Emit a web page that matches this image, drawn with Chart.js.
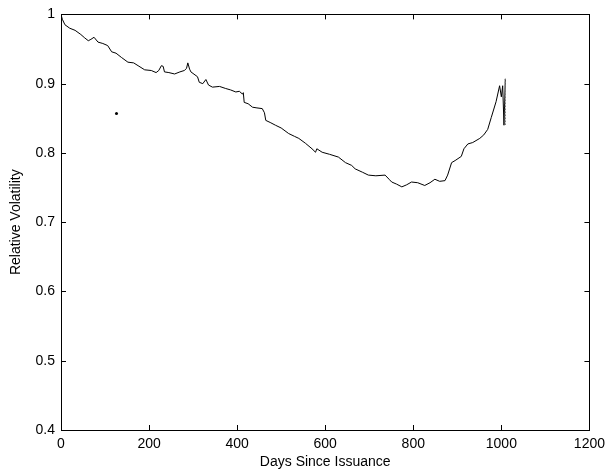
<!DOCTYPE html>
<html>
<head>
<meta charset="utf-8">
<script src="https://cdn.jsdelivr.net/npm/chart.js@4.4.1/dist/chart.umd.min.js"></script>
<style>
  html, body { margin: 0; padding: 0; background: #fff; }
  #wrap { width: 611px; height: 475px; position: relative; }
</style>
</head>
<body>
<div id="wrap"><canvas id="volChart"></canvas></div>
<script>
// days since issuance and relative volatility
const days = [0, 3, 9, 20, 32, 45, 54, 62, 68, 75, 84, 95, 106, 115, 125, 137, 152, 165, 175, 190,
  205, 216, 222, 228, 232, 235, 245, 258, 270, 280, 285, 288, 292, 295, 310, 314, 322, 329, 335, 344,
  360, 374, 385, 397, 405, 412, 414, 416, 425, 435, 445, 457, 462, 465, 475, 487, 500, 517, 530, 540,
  555, 570, 578, 581, 593, 610, 630, 646, 660, 668, 685, 698, 715, 736, 745, 751, 762, 774, 785, 796,
  810, 826, 838, 849, 860, 872, 878, 887, 895, 909, 915, 924, 935, 951, 960, 969, 977, 988, 996, 1000,
  1003, 1006, 1009, 1009];
const volatility = [1.0, 0.993, 0.985, 0.98, 0.977, 0.971, 0.966, 0.962, 0.964, 0.967, 0.96, 0.958, 0.955, 0.946, 0.944, 0.938, 0.931, 0.93, 0.926, 0.92,
  0.919, 0.916, 0.919, 0.926, 0.925, 0.917, 0.916, 0.914, 0.917, 0.919, 0.922, 0.93, 0.921, 0.917, 0.91, 0.902, 0.90, 0.906, 0.898, 0.895,
  0.896, 0.893, 0.891, 0.888, 0.889, 0.885, 0.887, 0.873, 0.871, 0.866, 0.865, 0.864, 0.858, 0.847, 0.844, 0.84, 0.836, 0.828, 0.824, 0.821,
  0.814, 0.806, 0.801, 0.806, 0.801, 0.798, 0.794, 0.786, 0.782, 0.777, 0.772, 0.768, 0.767, 0.768, 0.762, 0.758, 0.755, 0.751, 0.754, 0.758,
  0.757, 0.753, 0.757, 0.762, 0.759, 0.76, 0.768, 0.786, 0.789, 0.795, 0.806, 0.813, 0.815, 0.821, 0.826, 0.834, 0.851, 0.874, 0.897, 0.881,
  0.897, 0.84, 0.907, 0.84];
// stray point near day 126
const strayDay = [126];
const strayVol = [0.857];

const xTicks = [0, 200, 400, 600, 800, 1000, 1200];
const yTicks = [0.4, 0.5, 0.6, 0.7, 0.8, 0.9, 1];

const lastIdx = days.length - 2;

// matlab-like box with inward ticks on all sides
const boxPlugin = {
  id: 'box',
  afterDraw(chart) {
    const { ctx, chartArea: a, scales } = chart;
    ctx.save();
    ctx.strokeStyle = '#000';
    ctx.lineWidth = 1;
    ctx.strokeRect(Math.round(a.left) + 0.5, Math.round(a.top) + 0.5,
      Math.round(a.right - a.left), Math.round(a.bottom - a.top));
    ctx.beginPath();
    const len = 5;
    xTicks.forEach(v => {
      const px = Math.round(scales.x.getPixelForValue(v)) + 0.5;
      ctx.moveTo(px, a.bottom); ctx.lineTo(px, a.bottom - len);
      ctx.moveTo(px, a.top); ctx.lineTo(px, a.top + len);
    });
    yTicks.forEach(v => {
      const py = Math.round(scales.y.getPixelForValue(v)) + 0.5;
      ctx.moveTo(a.left, py); ctx.lineTo(a.left + len, py);
      ctx.moveTo(a.right, py); ctx.lineTo(a.right - len, py);
    });
    ctx.stroke();
    ctx.restore();
  }
};

const font = { family: '"Liberation Sans", Arial, sans-serif', size: 14 };

new Chart(document.getElementById('volChart'), {
  type: 'line',
  data: {
    datasets: [
      {
        data: days.map((d, i) => ({ x: d, y: volatility[i] })),
        borderColor: '#000',
        borderWidth: 1,
        pointRadius: 0,
        tension: 0,
        segment: {
          borderColor: c => c.p0DataIndex === lastIdx ? '#777' : '#000',
          borderDash: c => c.p0DataIndex === lastIdx ? [1, 2] : undefined
        }
      },
      {
        type: 'scatter',
        data: strayDay.map((d, i) => ({ x: d, y: strayVol[i] })),
        pointRadius: 1.5,
        pointBackgroundColor: '#000',
        pointBorderWidth: 0
      }
    ]
  },
  options: {
    responsive: true,
    maintainAspectRatio: false,
    animation: false,
    devicePixelRatio: 1,
    layout: { padding: { left: 4, top: 14, right: 17, bottom: 0 } },
    plugins: { legend: { display: false }, tooltip: { enabled: false } },
    scales: {
      x: {
        type: 'linear',
        min: 0,
        max: 1200,
        grid: { display: false, drawTicks: false },
        border: { display: false },
        ticks: { stepSize: 200, color: '#000', font, padding: 6, maxRotation: 0, callback: v => String(v) },
        title: { display: true, text: 'Days Since Issuance', color: '#000', font, padding: { top: 1 } },
        afterFit: s => { s.height = 45; }
      },
      y: {
        min: 0.4,
        max: 1,
        grid: { display: false, drawTicks: false },
        border: { display: false },
        ticks: {
          stepSize: 0.1,
          color: '#000',
          font,
          padding: 6,
          callback: v => (Math.abs(v - 1) < 1e-9 ? '1' : v.toFixed(1))
        },
        title: { display: true, text: 'Relative Volatility', color: '#000', font, padding: { bottom: 2 } },
        afterFit: s => { s.width = 57; }
      }
    }
  },
  plugins: [boxPlugin]
});
</script>
</body>
</html>
